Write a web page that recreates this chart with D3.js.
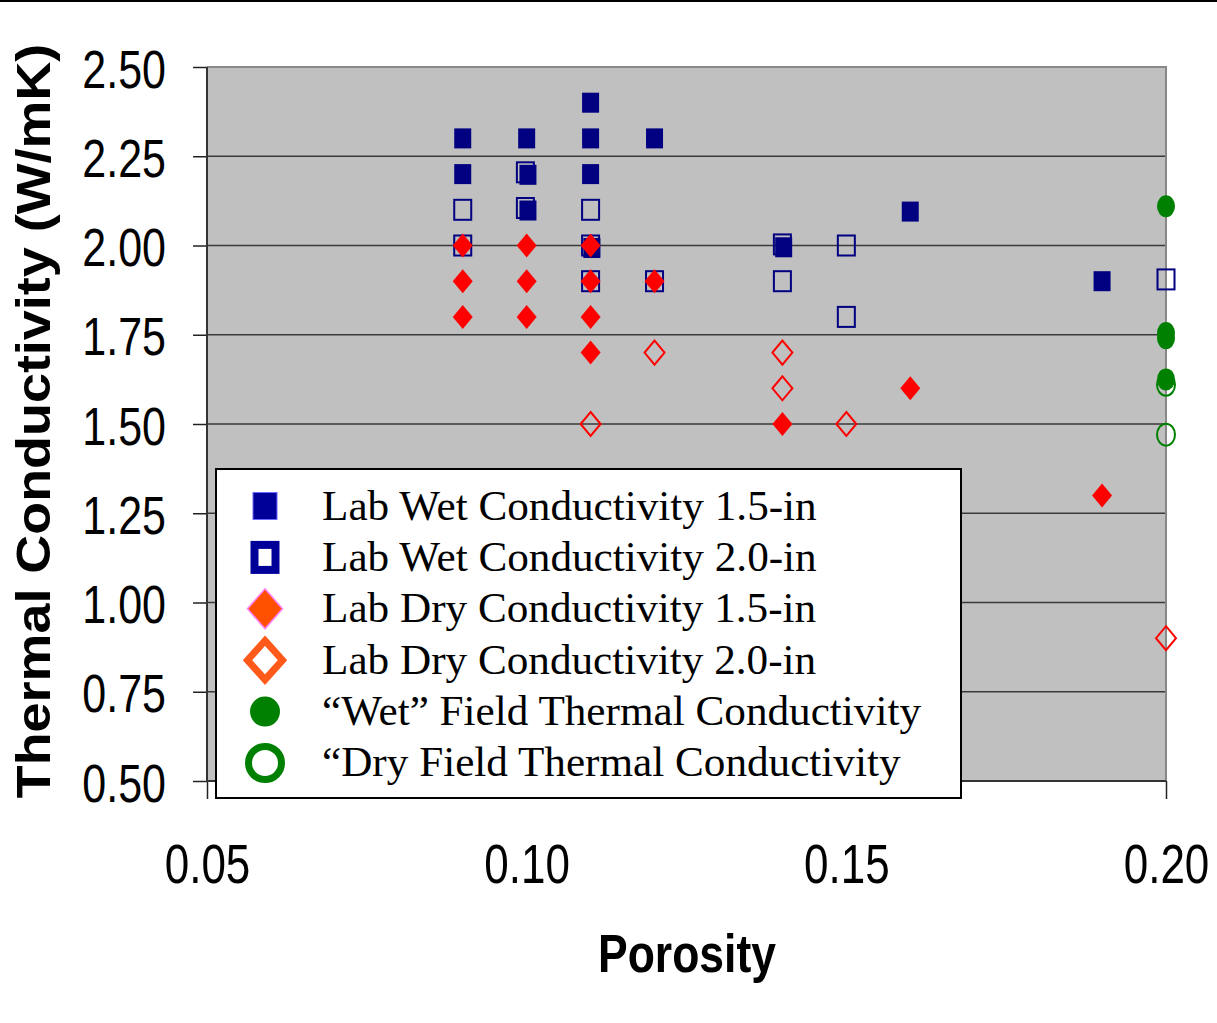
<!DOCTYPE html>
<html>
<head>
<meta charset="utf-8">
<script src="https://cdn.jsdelivr.net/npm/d3@7"></script>
<style>
  body { margin: 0; background: #fff; }
  svg { display: block; }
</style>
</head>
<body>
<div id="vis"></div>
<script>
// porosity vs conductivity readings, one array per series
var labWet15 = [[0.09, 2.30], [0.09, 2.20], [0.10, 2.30], [0.1002, 2.198], [0.1002, 2.098],
  [0.11, 2.40], [0.11, 2.30], [0.11, 2.20], [0.1102, 1.993], [0.12, 2.30],
  [0.1402, 1.995], [0.16, 2.095], [0.19, 1.90]];
var labWet20 = [[0.09, 2.10], [0.09, 2.00], [0.0998, 2.205], [0.0998, 2.105],
  [0.11, 2.10], [0.11, 2.00], [0.11, 1.90], [0.12, 1.90], [0.14, 2.003], [0.14, 1.90],
  [0.15, 2.00], [0.15, 1.80], [0.20, 1.905]];
var labDry15 = [[0.09, 2.00], [0.09, 1.90], [0.09, 1.80], [0.10, 2.00], [0.10, 1.90], [0.10, 1.80],
  [0.11, 2.00], [0.11, 1.90], [0.11, 1.80], [0.11, 1.70], [0.12, 1.90],
  [0.14, 1.50], [0.16, 1.60], [0.19, 1.30]];
var labDry20 = [[0.11, 1.50], [0.12, 1.70], [0.14, 1.70], [0.14, 1.60], [0.15, 1.50], [0.20, 0.90]];
var fieldWet = [[0.20, 2.11], [0.20, 1.755], [0.20, 1.74], [0.20, 1.625]];
var fieldDry = [[0.20, 1.61], [0.20, 1.47]];

var xTicks = [0.05, 0.10, 0.15, 0.20];
var yTicks = [0.50, 0.75, 1.00, 1.25, 1.50, 1.75, 2.00, 2.25, 2.50];
var legendLabels = [
  'Lab Wet Conductivity 1.5-in',
  'Lab Wet Conductivity 2.0-in',
  'Lab Dry Conductivity 1.5-in',
  'Lab Dry Conductivity 2.0-in',
  '\u201CWet\u201D Field Thermal Conductivity',
  '\u201CDry Field Thermal Conductivity'
];

var width = 1217;
var height = 1023;
var plot = { left: 207, right: 1166, top: 67, bottom: 781 };

var svg = d3.select('#vis').append('svg')
  .attr('width', width)
  .attr('height', height);

var x = d3.scaleLinear().domain([0.05, 0.20]).range([plot.left, plot.right]);
var y = d3.scaleLinear().domain([0.50, 2.50]).range([plot.bottom, plot.top]);

// top rule across the page
svg.append('line')
  .attr('x1', 0).attr('x2', width).attr('y1', 1).attr('y2', 1)
  .attr('stroke', '#000').attr('stroke-width', 2);

// plot background
svg.append('rect')
  .attr('x', plot.left).attr('y', plot.top)
  .attr('width', plot.right - plot.left).attr('height', plot.bottom - plot.top)
  .attr('fill', '#c0c0c0');

// gridlines
svg.append('g').selectAll('line')
  .data(yTicks.filter(function (d) { return d > 0.5 && d < 2.5; }))
  .join('line')
  .attr('x1', plot.left).attr('x2', plot.right)
  .attr('y1', function (d) { return y(d); })
  .attr('y2', function (d) { return y(d); })
  .attr('stroke', '#3a3a3a').attr('stroke-width', 1.5);

// top and right edge
svg.append('path')
  .attr('d', 'M' + plot.left + ',' + plot.top + 'H' + plot.right + 'V' + plot.bottom)
  .attr('fill', 'none').attr('stroke', '#888').attr('stroke-width', 2);

// y axis
var yAxis = svg.append('g')
  .attr('transform', 'translate(' + plot.left + ',0)')
  .call(d3.axisLeft(y).tickValues(yTicks).tickSize(14).tickFormat(d3.format('.2f')));
yAxis.select('.domain').remove();
yAxis.selectAll('.tick line').attr('stroke', '#222').attr('stroke-width', 1.5);
yAxis.selectAll('.tick text')
  .attr('x', 0).attr('dy', null)
  .attr('transform', 'translate(-41,20) scale(1,1.24)')
  .attr('fill', '#000')
  .style('font-family', '"Liberation Sans", Arial, sans-serif')
  .style('font-size', '43px');

// x axis
var xAxis = svg.append('g')
  .attr('transform', 'translate(0,' + plot.bottom + ')')
  .call(d3.axisBottom(x).tickValues(xTicks).tickSize(18).tickFormat(d3.format('.2f')));
xAxis.select('.domain').remove();
xAxis.selectAll('.tick line').attr('stroke', '#222').attr('stroke-width', 1.5);
xAxis.selectAll('.tick text')
  .attr('y', 0).attr('dy', null)
  .attr('transform', 'translate(0,102) scale(1,1.26)')
  .attr('fill', '#000')
  .style('font-family', '"Liberation Sans", Arial, sans-serif')
  .style('font-size', '44px');

// left and bottom edge
svg.append('path')
  .attr('d', 'M' + plot.left + ',' + plot.top + 'V' + plot.bottom + 'H' + plot.right)
  .attr('fill', 'none').attr('stroke', '#333').attr('stroke-width', 2);

// marker helpers
function diamondPath(w, h) {
  return 'M0,' + (-h / 2) + 'L' + (w / 2) + ',0L0,' + (h / 2) + 'L' + (-w / 2) + ',0Z';
}

var marks = svg.append('g');

function squares(data, filled) {
  var w = 17, h = 20;
  marks.append('g').selectAll('rect').data(data).join('rect')
    .attr('x', function (d) { return x(d[0]) - w / 2; })
    .attr('y', function (d) { return y(d[1]) - h / 2; })
    .attr('width', w).attr('height', h)
    .attr('fill', filled ? '#000080' : 'none')
    .attr('stroke', filled ? 'none' : '#000080')
    .attr('stroke-width', 2);
}

function diamonds(data, filled) {
  marks.append('g').selectAll('path').data(data).join('path')
    .attr('transform', function (d) { return 'translate(' + x(d[0]) + ',' + y(d[1]) + ')'; })
    .attr('d', diamondPath(20, 24))
    .attr('fill', filled ? '#ff0000' : 'none')
    .attr('stroke', filled ? 'none' : '#ff0000')
    .attr('stroke-width', 2);
}

function circles(data, filled) {
  marks.append('g').selectAll('ellipse').data(data).join('ellipse')
    .attr('cx', function (d) { return x(d[0]); })
    .attr('cy', function (d) { return y(d[1]); })
    .attr('rx', 9).attr('ry', 11)
    .attr('fill', filled ? '#008000' : 'none')
    .attr('stroke', filled ? 'none' : '#008000')
    .attr('stroke-width', 2);
}

squares(labWet20, false);
squares(labWet15, true);
diamonds(labDry15, true);
diamonds(labDry20, false);
circles(fieldWet, true);
circles(fieldDry, false);

// legend
var legend = svg.append('g');
legend.append('rect')
  .attr('x', 216).attr('y', 469).attr('width', 745).attr('height', 329)
  .attr('fill', '#fff').attr('stroke', '#000').attr('stroke-width', 2);

var rowY = function (i) { return 506 + i * 51.4; };
var keyX = 265;

legend.append('rect')
  .attr('x', keyX - 12).attr('y', rowY(0) - 13.5).attr('width', 24).attr('height', 27)
  .attr('fill', '#000099').attr('stroke', '#6a6aff').attr('stroke-width', 1);
legend.append('rect')
  .attr('x', keyX - 10.5).attr('y', rowY(1) - 12.5).attr('width', 21).attr('height', 25)
  .attr('fill', '#fff').attr('stroke', '#000099').attr('stroke-width', 8);
legend.append('path')
  .attr('transform', 'translate(' + keyX + ',' + rowY(2) + ')')
  .attr('d', diamondPath(35, 40))
  .attr('fill', '#ff5000').attr('stroke', '#ff80ff').attr('stroke-width', 1.5);
legend.append('path')
  .attr('transform', 'translate(' + keyX + ',' + rowY(3) + ')')
  .attr('d', diamondPath(35, 39))
  .attr('fill', '#fff').attr('stroke', '#ff5a1a').attr('stroke-width', 7);
legend.append('circle')
  .attr('cx', keyX).attr('cy', rowY(4)).attr('r', 15)
  .attr('fill', '#008000');
legend.append('circle')
  .attr('cx', keyX).attr('cy', rowY(5)).attr('r', 16.5)
  .attr('fill', '#fff').attr('stroke', '#008000').attr('stroke-width', 7);

legend.selectAll('text.lbl').data(legendLabels).join('text')
  .attr('class', 'lbl')
  .attr('x', 322)
  .attr('y', function (d, i) { return 520 + i * 51.2; })
  .attr('fill', '#000')
  .style('font-family', '"Liberation Serif", "Times New Roman", serif')
  .style('font-size', '43.2px')
  .text(function (d) { return d; });

// axis titles
svg.append('text')
  .attr('transform', 'translate(687,972) scale(1,1.22)')
  .attr('text-anchor', 'middle')
  .style('font-family', '"Liberation Sans", Arial, sans-serif')
  .style('font-size', '44.5px')
  .style('font-weight', 'bold')
  .text('Porosity');

svg.append('text')
  .attr('transform', 'translate(50,421) rotate(-90) scale(1.1,1)')
  .attr('text-anchor', 'middle')
  .style('font-family', '"Liberation Sans", Arial, sans-serif')
  .style('font-size', '49px')
  .style('font-weight', 'bold')
  .text('Thermal Conductivity (W/mK)');
</script>
</body>
</html>
